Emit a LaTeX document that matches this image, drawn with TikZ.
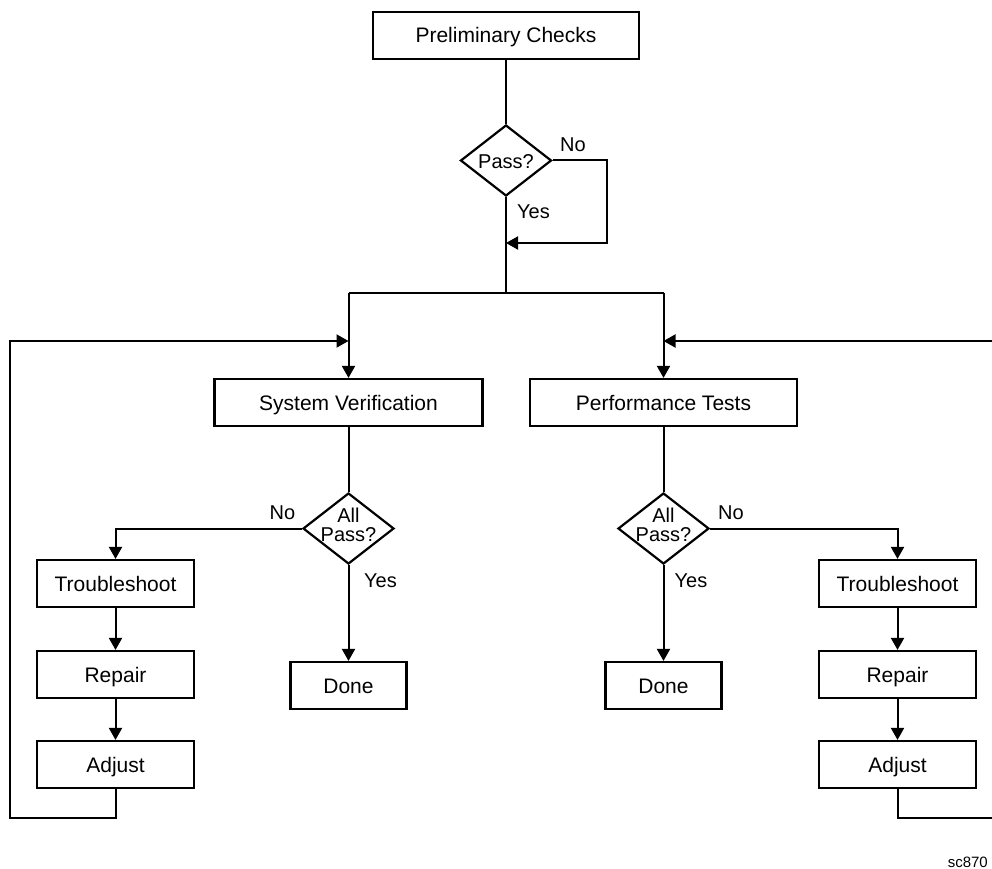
\documentclass[tikz,border=0pt]{standalone}
\usepackage{fontspec}
\setmainfont{Liberation Sans}
\usetikzlibrary{arrows.meta,shapes.geometric}
\begin{document}
\begin{tikzpicture}[x=1pt,y=-1pt,
  boxnode/.style={draw,line width=2.2pt,minimum height=47pt,inner sep=0pt,text height=15pt,text depth=0pt,font=\fontsize{21pt}{24pt}\selectfont},
  dia/.style={draw,diamond,line width=2.2pt,minimum width=91pt,minimum height=71pt,inner sep=0pt},
  lbl/.style={inner sep=0pt,font=\fontsize{20pt}{24pt}\selectfont},
  dtext/.style={inner sep=0pt,align=center,font=\fontsize{20pt}{19pt}\selectfont},
  con/.style={line width=2pt},
  arr/.style={line width=2pt,-{Triangle[length=12pt,width=13pt]}}]
\useasboundingbox (0,0) rectangle (992,869);
\fill[white] (0,0) rectangle (992,869);
% boxes
\node[boxnode,minimum width=266pt] (pre) at (506,35.5) {Preliminary Checks};
\node[dia,label={[dtext,yshift=-1pt]center:Pass?}] (pass) at (506,160.5) {};
\node[boxnode,minimum width=268pt] (sv) at (348.5,402.5) {System Verification};
\node[boxnode,minimum width=267pt] (pt) at (663.5,402.5) {Performance Tests};
\node[dia,label={[dtext,yshift=4pt]center:All\\Pass?}] (lap) at (348.5,528.5) {};
\node[dia,label={[dtext,yshift=4pt]center:All\\Pass?}] (rap) at (663.5,528.5) {};
\node[boxnode,minimum width=157pt] (lts) at (115.5,583.5) {Troubleshoot};
\node[boxnode,minimum width=157pt] (lrep) at (115.5,674.5) {Repair};
\node[boxnode,minimum width=157pt] (ladj) at (115.5,764.5) {Adjust};
\node[boxnode,minimum width=116pt] (ldone) at (348.5,685.5) {Done};
\node[boxnode,minimum width=157pt] (rts) at (897.5,583.5) {Troubleshoot};
\node[boxnode,minimum width=157pt] (rrep) at (897.5,674.5) {Repair};
\node[boxnode,minimum width=157pt] (radj) at (897.5,764.5) {Adjust};
\node[boxnode,minimum width=116pt] (rdone) at (663.5,685.5) {Done};
% coordinates
\coordinate (nc) at (607,243);
\coordinate (j1) at (506,243);
\coordinate (split) at (506,293);
\coordinate (lsplit) at (348.5,293);
\coordinate (rsplit) at (663.5,293);
\coordinate (lj) at (348.5,341);
\coordinate (rj) at (663.5,341);
\coordinate (lb) at (115.5,818);
\coordinate (lc) at (10,818);
\coordinate (ld) at (10,341);
\coordinate (rb) at (897.5,818);
\coordinate (rc) at (994,818);
\coordinate (rd) at (994,341);
% connectors
\draw[con] (pre) -- (pass);
\draw[arr] (pass.east) -| (nc) -- (j1);
\draw[con] (pass.south) -- (split);
\draw[con] (lsplit) -- (rsplit);
\draw[arr] (lsplit) -- (sv.north);
\draw[arr] (rsplit) -- (pt.north);
\draw[arr] (ladj.south) -- (lb) -- (lc) -- (ld) -- (lj);
\draw[arr] (radj.south) -- (rb) -- (rc) -- (rd) -- (rj);
\draw[con] (sv) -- (lap);
\draw[con] (pt) -- (rap);
\draw[arr] (lap.west) -| (lts.north);
\draw[arr] (rap.east) -| (rts.north);
\draw[arr] (lap.south) -- (ldone.north);
\draw[arr] (rap.south) -- (rdone.north);
\draw[arr] (lts) -- (lrep);
\draw[arr] (lrep) -- (ladj);
\draw[arr] (rts) -- (rrep);
\draw[arr] (rrep) -- (radj);
% labels
\node[lbl] (lno1) at (573,145) {No};
\node[lbl] (lyes1) at (533.5,211.5) {Yes};
\node[lbl] (lno2) at (282.5,513) {No};
\node[lbl] (lyes2) at (380.5,581) {Yes};
\node[lbl] (lno3) at (731,513) {No};
\node[lbl] (lyes3) at (691,581) {Yes};
\node[inner sep=0pt,anchor=east,font=\fontsize{15pt}{18pt}\selectfont] (sc) at (988,862) {sc870};
\end{tikzpicture}
\end{document}
